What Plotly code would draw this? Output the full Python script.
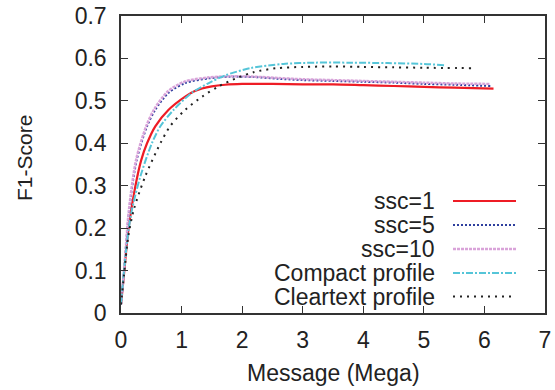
import plotly.graph_objects as go

# ---- data ----
ssc1_x = [0, 0.055, 0.125, 0.236, 0.335, 0.43, 0.566, 0.786, 1.06, 1.23, 1.5, 1.72, 2.0, 2.5, 3.0, 3.5, 4.0, 4.5, 5.0, 5.5, 6.15]
ssc1_y = [0.02, 0.10, 0.20, 0.298, 0.361, 0.40, 0.44, 0.479, 0.51, 0.524, 0.534, 0.538, 0.540, 0.540, 0.539, 0.539, 0.537, 0.535, 0.533, 0.531, 0.529]

ssc5_x = [0, 0.05, 0.135, 0.26, 0.43, 0.566, 0.786, 1.06, 1.45, 1.8, 2.2, 2.6, 3.0, 3.5, 4.0, 4.5, 5.0, 5.5, 6.1]
ssc5_y = [0.02, 0.10, 0.243, 0.361, 0.44, 0.479, 0.519, 0.542, 0.553, 0.557, 0.556, 0.552, 0.549, 0.547, 0.545, 0.543, 0.540, 0.538, 0.535]

ssc10_x = [0, 0.05, 0.13, 0.25, 0.42, 0.55, 0.77, 1.04, 1.43, 1.8, 2.2, 2.6, 3.0, 3.5, 4.0, 4.5, 5.0, 5.5, 6.1]
ssc10_y = [0.02, 0.10, 0.243, 0.362, 0.442, 0.481, 0.522, 0.545, 0.555, 0.558, 0.557, 0.554, 0.551, 0.549, 0.547, 0.545, 0.543, 0.541, 0.540]

compact_x = [0, 0.05, 0.12, 0.18, 0.32, 0.51, 0.65, 0.87, 1.17, 1.45, 1.72, 2.13, 2.68, 3.2, 3.8, 4.4, 5.0, 5.35]
compact_y = [0.02, 0.10, 0.19, 0.243, 0.322, 0.40, 0.44, 0.479, 0.519, 0.542, 0.56, 0.577, 0.587, 0.590, 0.590, 0.589, 0.587, 0.584]

clear_x = [0, 0.05, 0.12, 0.21, 0.40, 0.65, 0.81, 1.06, 1.34, 1.61, 1.9, 2.2, 2.57, 3.0, 3.5, 4.0, 4.5, 5.0, 5.79]
clear_y = [0.02, 0.09, 0.18, 0.243, 0.322, 0.40, 0.44, 0.479, 0.51, 0.534, 0.553, 0.568, 0.577, 0.580, 0.581, 0.580, 0.579, 0.578, 0.577]

x_ticks = [0, 1, 2, 3, 4, 5, 6, 7]
y_ticks = [0, 0.1, 0.2, 0.3, 0.4, 0.5, 0.6, 0.7]

series = [
    ("ssc=1", ssc1_x, ssc1_y, "#ee1c25", 2.2, "solid"),
    ("ssc=5", ssc5_x, ssc5_y, "#2e3f9e", 2.0, "2px,2px"),
    ("ssc=10", ssc10_x, ssc10_y, "#d9a3d9", 2.4, "3px,1px"),
    ("Compact profile", compact_x, compact_y, "#55c5d8", 2.0, "7px,2px,2px,2px"),
    ("Cleartext profile", clear_x, clear_y, "#222222", 2.0, "2px,5px"),
]

W, H = 555, 390
L, R, T, B = 121, 10, 16, 77
pw, ph = W - L - R, H - T - B

FONT = "Liberation Sans, Arial, Helvetica, sans-serif"
TXT = "#222222"

fig = go.Figure()
for name, xs, ys, col, w, dash in series:
    fig.add_trace(go.Scatter(x=xs, y=ys, mode="lines", name=name,
                             line=dict(color=col, width=w, dash=dash, shape="spline", smoothing=0.8),
                             showlegend=False))

# custom gnuplot-style legend (text right, sample to the right)
leg_y = [201, 225, 249, 273, 296.5]
txt_right = 437
s0, s1 = 453, 516
for (name, xs, ys, col, w, dash), yy in zip(series, leg_y):
    py = 1 - (yy - T) / ph
    fig.add_annotation(xref="paper", yref="paper", x=(txt_right - L) / pw, y=py,
                       text=name, showarrow=False, xanchor="right", yanchor="middle",
                       font=dict(family=FONT, size=23, color=TXT))
    fig.add_shape(type="line", xref="paper", yref="paper",
                  x0=(s0 - L) / pw, x1=(s1 - L) / pw, y0=py, y1=py,
                  line=dict(color=col, width=w, dash=dash))

# axis titles
fig.add_annotation(xref="paper", yref="paper", x=(24 - L) / pw, y=1 - (158 - T) / ph,
                   text="F1-Score", textangle=-90, showarrow=False,
                   xanchor="center", yanchor="middle",
                   font=dict(family=FONT, size=21, color=TXT))
fig.add_annotation(xref="paper", yref="paper", x=0.5, y=1 - (373 - T) / ph,
                   text="Message (Mega)", showarrow=False,
                   xanchor="center", yanchor="middle",
                   font=dict(family=FONT, size=23, color=TXT))

axis_common = dict(showgrid=False, zeroline=False, showline=True, linecolor="#333333",
                   linewidth=1.5, mirror="ticks", ticks="inside", ticklen=7,
                   tickcolor="#333333", tickwidth=1.2,
                   tickfont=dict(family=FONT, size=23, color=TXT), automargin=False)

fig.update_layout(
    width=W, height=H,
    margin=dict(l=L, r=R, t=T, b=B, autoexpand=False),
    paper_bgcolor="white", plot_bgcolor="white",
    xaxis=dict(range=[0, 7], tickvals=x_ticks, ticktext=[str(v) for v in x_ticks],
               ticklabelstandoff=6, **axis_common),
    yaxis=dict(range=[0, 0.7], tickvals=y_ticks,
               ticktext=["0"] + [f"{v:.1f}" for v in y_ticks[1:]],
               ticklabelstandoff=8, **axis_common),
)

fig.write_html("out.html", config={"displayModeBar": False},
               post_script="document.body.style.margin='0';document.body.style.overflow='hidden';")
